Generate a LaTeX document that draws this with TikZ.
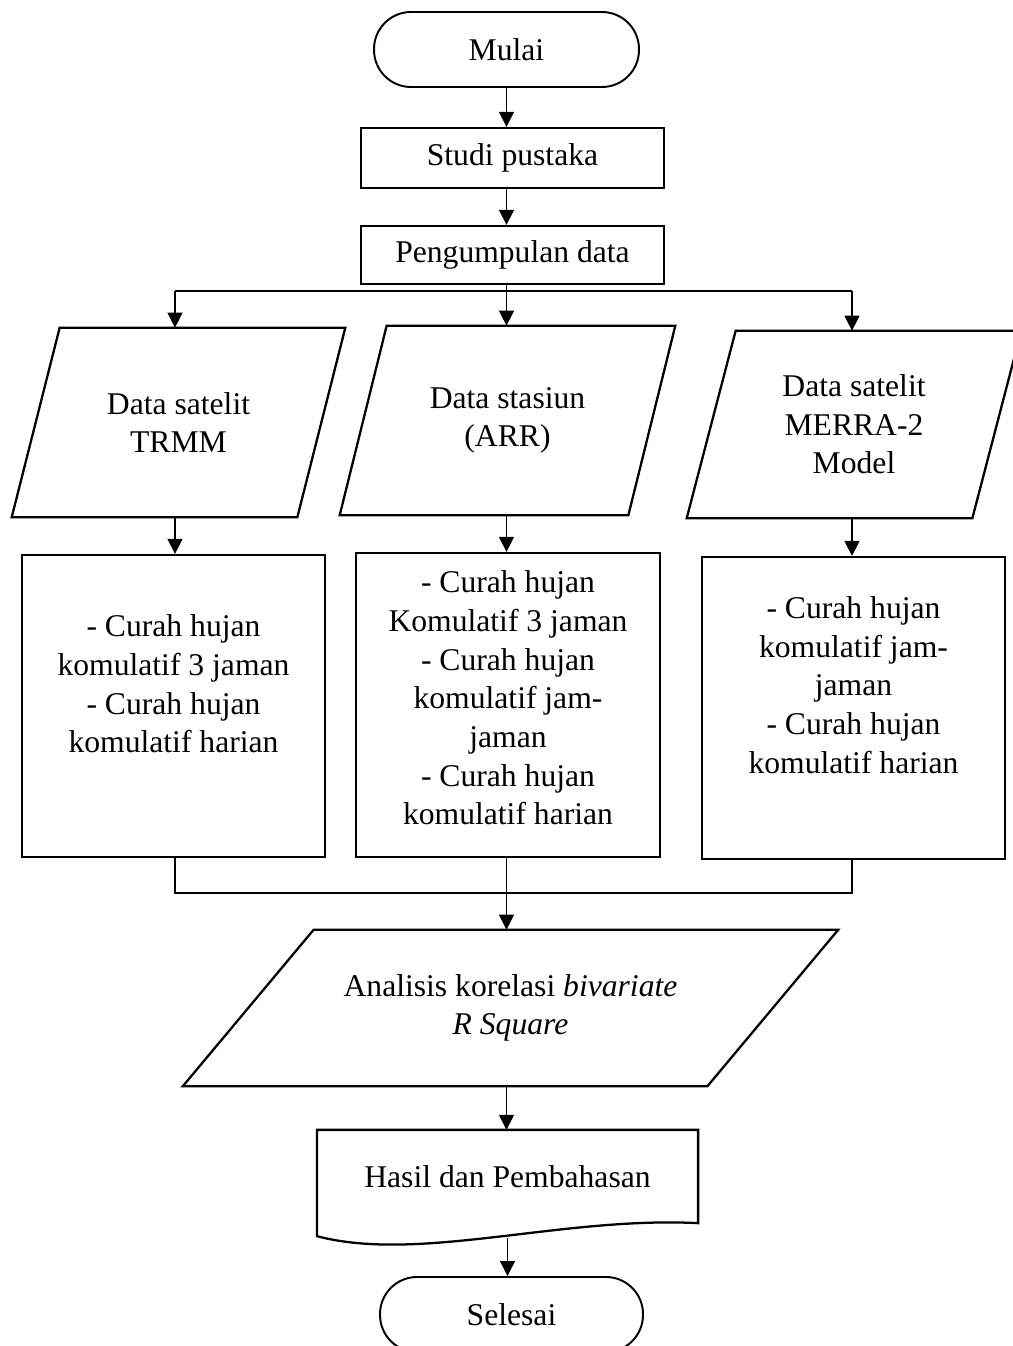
\documentclass[tikz,border=0pt]{standalone}
\usepackage{fontspec}
\setmainfont{Liberation Serif}
\usepackage{tikz}
\usetikzlibrary{arrows.meta}
\newcommand{\naikkan}[2]{\raisebox{#1}[\height][\depth]{\begin{tabular}{@{}c@{}}#2\end{tabular}}}
\newcommand{\jajar}[2]{\draw[tepi] ([xshift=#2]#1.north west) -- ([xshift=#2]#1.north east) -- ([xshift=-#2]#1.south east) -- ([xshift=-#2]#1.south west) -- cycle;}
\tikzset{
  tepi/.style={line width=1.3pt},
  terminal/.style={draw, line width=1.1pt, rounded corners=0.74cm, minimum width=5.3cm, minimum height=1.5cm, font=\fontsize{18}{22}\selectfont},
  proses/.style={draw, tepi, minimum width=6.06cm, inner sep=0pt, align=center, font=\fontsize{18}{22}\selectfont},
  masukan/.style={inner sep=0pt, align=center, font=\fontsize{18}{22}\selectfont},
  panah/.style={-{Triangle[width=3mm,length=3mm]}, line width=0.6pt},
  garis/.style={line width=0.6pt}
}
\begin{document}
\begin{tikzpicture}[x=0.02cm, y=-0.02cm]
\useasboundingbox (0,0) rectangle (1013,1346);
\node[terminal] (mulai) at (506.5,49.5) {Mulai};
\node[proses, minimum height=1.2cm] (studi) at (512.5,158) {Studi pustaka};
\node[proses, minimum height=1.16cm] (kumpul) at (512.5,255) {Pengumpulan data};
\node[masukan, minimum width=5.7cm, minimum height=3.78cm] (dataA) at (178.5,422.5) {Data satelit\\TRMM};
\node[masukan, minimum width=5.76cm, minimum height=3.78cm] (dataB) at (507.5,420.5) {Data stasiun\\(ARR)};
\node[masukan, minimum width=5.7cm, minimum height=3.74cm] (dataC) at (854,424.5) {Data satelit\\MERRA-2\\Model};
\jajar{dataA}{0.48cm}
\jajar{dataB}{0.47cm}
\jajar{dataC}{0.49cm}
\node[proses, minimum height=6.04cm] (curahA) at (173.5,706) {\naikkan{3.8mm}{- Curah hujan\\komulatif 3 jaman\\- Curah hujan\\komulatif harian}};
\node[proses, minimum width=6.08cm, minimum height=6.08cm] (curahB) at (508,705) {\naikkan{0.8mm}{- Curah hujan\\Komulatif 3 jaman\\- Curah hujan\\komulatif jam-\\jaman\\- Curah hujan\\komulatif harian}};
\node[proses, minimum height=6.04cm] (curahC) at (853.5,708) {\naikkan{4mm}{- Curah hujan\\komulatif jam-\\jaman\\- Curah hujan\\komulatif harian}};
\node[masukan, minimum width=10.48cm, minimum height=3.12cm] (analisis) at (510.5,1008) {Analisis korelasi \textit{bivariate}\\\textit{R Square}};
\jajar{analisis}{1.31cm}
\node[proses, draw=none, minimum width=7.58cm, minimum height=1.82cm] (hasil) at (507.5,1176.5) {Hasil dan Pembahasan};
\draw[tepi] ([shift={(0,13)}]hasil.south west) -- (hasil.north west) -- (hasil.north east) -- (hasil.south east) .. controls ([shift={(-137,-7)}]hasil.south east) and ([shift={(102,40)}]hasil.south west) .. ([shift={(0,13)}]hasil.south west) -- cycle;
\node[terminal, minimum width=5.26cm] (selesai) at (511.5,1314.5) {Selesai};
\coordinate (cabangA) at (175,291);
\coordinate (cabangC) at (852,291);
\coordinate (gabungA) at (175,893);
\coordinate (gabungC) at (852,893);
\draw[panah] (mulai.south) -- (studi.north -| mulai);
\draw[panah] (studi.south -| mulai) -- (kumpul.north -| mulai);
\draw[garis] (cabangA) -- (cabangC);
\draw[panah] (kumpul.south -| mulai) -- (dataB.north -| mulai);
\draw[panah] (cabangA) -- (cabangA |- dataA.north);
\draw[panah] (cabangC) -- (cabangC |- dataC.north);
\draw[panah] (cabangA |- dataA.south) -- (cabangA |- curahA.north);
\draw[panah] (dataB.south -| mulai) -- (curahB.north -| mulai);
\draw[panah] (cabangC |- dataC.south) -- (cabangC |- curahC.north);
\draw[garis] (cabangA |- curahA.south) -- (gabungA) -- (gabungC) -- (cabangC |- curahC.south);
\draw[panah] (curahB.south -| mulai) -- (analisis.north -| mulai);
\draw[panah] (analisis.south -| mulai) -- (hasil.north -| mulai);
\draw[panah] ([shift={(0,15)}]hasil.south) -- (selesai.north -| hasil.south);
\end{tikzpicture}
\end{document}
